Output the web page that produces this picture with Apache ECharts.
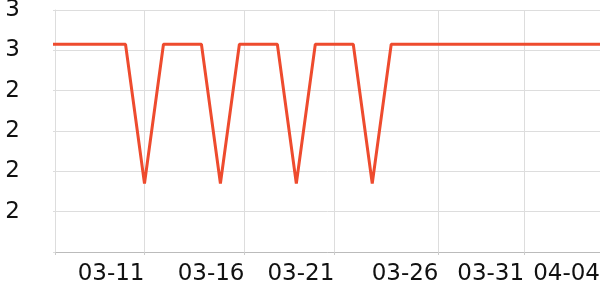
<!DOCTYPE html>
<html>
<head>
<meta charset="utf-8">
<script src="https://cdn.jsdelivr.net/npm/echarts@6/dist/echarts.min.js"></script>
<style>
html,body{margin:0;padding:0;background:#fff;}
#chart{width:600px;height:300px;}
</style>
</head>
<body>
<div id="chart"></div>
<script>
// ---- data ----
const dates = [
  '2024-03-06','2024-03-07','2024-03-08','2024-03-09','2024-03-10','2024-03-11',
  '2024-03-12','2024-03-13','2024-03-14','2024-03-15','2024-03-16','2024-03-17',
  '2024-03-18','2024-03-19','2024-03-20','2024-03-21','2024-03-22','2024-03-23',
  '2024-03-24','2024-03-25','2024-03-26','2024-03-27','2024-03-28','2024-03-29',
  '2024-03-30','2024-03-31','2024-04-01','2024-04-02','2024-04-03','2024-04-04'
];
const values = [
  3.03, 3.03, 3.03, 3.03, 3.03, 2.34,
  3.03, 3.03, 3.03, 2.34, 3.03, 3.03,
  3.03, 2.34, 3.03, 3.03, 3.03, 2.34,
  3.03, 3.03, 3.03, 3.03, 3.03, 3.03,
  3.03, 3.03, 3.03, 3.03, 3.03, 3.03
];
const xMin = '2024-03-06 06:50';
const xMax = '2024-04-04 00:00';
const xTickDates = ['2024-03-06 06:50','2024-03-11 00:00','2024-03-16 06:28','2024-03-21 00:00','2024-03-26 11:46','2024-03-31 00:00','2024-04-04 00:00'];
const xTickLabels = ['', '03-11', '03-16', '03-21', '03-26', '03-31', '04-04'];
const yMin = 2.0, yMax = 3.2, yStep = 0.2;
const yTickLabels = ['', '2', '2', '2', '2', '3', '3'];

function parseLocal(s) {
  const parts = s.split(' ');
  const dp = parts[0].split('-').map(Number);
  let hh = 0, mm = 0;
  if (parts[1]) { const tp = parts[1].split(':').map(Number); hh = tp[0]; mm = tp[1]; }
  return Date.UTC(dp[0], dp[1] - 1, dp[2], hh, mm) / 3600000; // hours
}
const xTickTimes = xTickDates.map(parseLocal);

const chart = echarts.init(document.getElementById('chart'), null, {renderer: 'canvas'});
chart.setOption({
  animation: false,
  grid: {left: 55, right: 0, top: 10, bottom: 48, containLabel: false, outerBoundsMode: 'none'},
  xAxis: {
    type: 'value',
    min: parseLocal(xMin),
    max: parseLocal(xMax),
    axisLine: {show: true, lineStyle: {color: '#bbbbbb', width: 1}},
    axisTick: {show: true, length: 3, customValues: xTickTimes, lineStyle: {color: '#cccccc'}},
    splitLine: {show: true, lineStyle: {color: '#dddddd', width: 1}},
    axisLabel: {
      customValues: xTickTimes,
      align: 'right',
      margin: 11,
      fontSize: 23,
      fontFamily: 'DejaVu Sans',
      color: '#111',
      hideOverlap: false,
      showMinLabel: true,
      showMaxLabel: true,
      formatter: function (val) {
        let best = 0, bd = Infinity;
        xTickTimes.forEach(function (t, i) { const d = Math.abs(t - val); if (d < bd) { bd = d; best = i; } });
        return xTickLabels[best];
      }
    }
  },
  yAxis: {
    type: 'value',
    min: yMin,
    max: yMax,
    interval: yStep,
    axisLine: {show: true, lineStyle: {color: '#dddddd'}},
    axisTick: {show: true, length: 2, lineStyle: {color: '#dddddd'}},
    splitLine: {show: true, lineStyle: {color: '#dddddd', width: 1}},
    axisLabel: {
      margin: 35,
      fontSize: 23,
      fontFamily: 'DejaVu Sans',
      color: '#111',
      formatter: function (val) {
        const i = Math.round((val - yMin) / yStep);
        return yTickLabels[i] !== undefined ? yTickLabels[i] : '';
      }
    }
  },
  series: [{
    type: 'line',
    data: dates.map(function (d, i) { return [parseLocal(d), values[i]]; }),
    showSymbol: false,
    symbol: 'none',
    lineStyle: {color: '#ee4b2e', width: 3},
    itemStyle: {color: '#ee4b2e'}
  }]
});
</script>
</body>
</html>
